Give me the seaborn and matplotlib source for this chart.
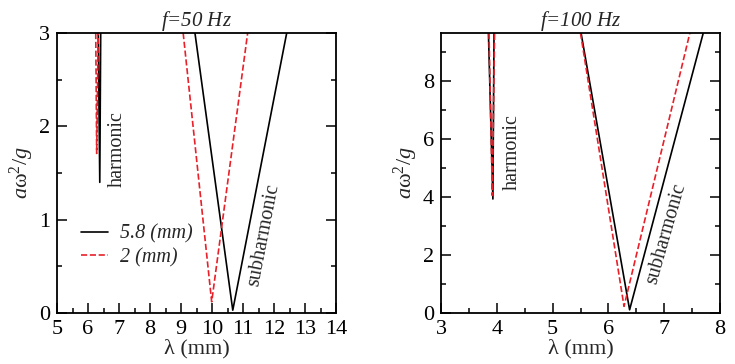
import numpy as np
import matplotlib
matplotlib.use('Agg')
import matplotlib.pyplot as plt
import seaborn as sns
from matplotlib.ticker import MultipleLocator

# ── data ──
# f = 50 Hz
h50_black_x = [6.33, 6.38, 6.41]
h50_black_y = [3.0, 1.40, 3.0]
h50_red_x = [6.25, 6.28, 6.33]
h50_red_y = [3.0, 1.71, 3.0]
s50_black_x = [9.45, 10.67, 12.41]
s50_black_y = [3.0, 0.03, 3.0]
s50_red_x = [9.07, 9.99, 11.15]
s50_red_y = [3.0, 0.12, 3.0]

# f = 100 Hz
h100_black_x = [3.85, 3.93, 3.95]
h100_black_y = [9.65, 3.93, 9.65]
h100_red_x = [3.86, 3.92, 3.96]
h100_red_y = [9.65, 4.05, 9.65]
s100_black_x = [5.51, 6.38, 7.70]
s100_black_y = [9.65, 0.11, 9.65]
s100_red_x = [5.50, 6.28, 7.46]
s100_red_y = [9.65, 0.23, 9.65]

legend_labels = ['5.8 (mm)', '2 (mm)']

sns.set_style('ticks')
plt.rcParams['font.family'] = ['Liberation Serif', 'DejaVu Serif']
plt.rcParams['mathtext.fontset'] = 'custom'
plt.rcParams['mathtext.rm'] = 'Liberation Serif'
plt.rcParams['mathtext.it'] = 'Liberation Serif:italic'

fig = plt.figure(figsize=(7.35, 3.64), dpi=100)
W, H = 735, 364
ax1 = fig.add_axes([57 / W, (H - 313) / H, 279 / W, 280 / H])
ax2 = fig.add_axes([441 / W, (H - 313) / H, 279 / W, 280 / H])

RED = '#e8202a'
lw = 1.2

def draw(ax, bx, by, rx, ry, lab=False):
    sns.lineplot(x=bx, y=by, ax=ax, color='black', lw=lw, sort=False,
                 estimator=None, label=legend_labels[0] if lab else None)
    sns.lineplot(x=rx, y=ry, ax=ax, color=RED, lw=lw, sort=False,
                 estimator=None, linestyle='--', dashes=(4, 2.5),
                 label=legend_labels[1] if lab else None)

draw(ax1, s50_black_x, s50_black_y, s50_red_x, s50_red_y, lab=True)
draw(ax1, h50_black_x, h50_black_y, h50_red_x, h50_red_y)
draw(ax2, h100_black_x, h100_black_y, h100_red_x, h100_red_y)
draw(ax2, s100_black_x, s100_black_y, s100_red_x, s100_red_y)

ax1.set_xlim(5, 14)
ax1.set_ylim(0, 3)
ax1.xaxis.set_major_locator(MultipleLocator(1))
ax1.xaxis.set_minor_locator(MultipleLocator(0.5))
ax1.yaxis.set_major_locator(MultipleLocator(1))
ax1.yaxis.set_minor_locator(MultipleLocator(0.5))

ax2.set_xlim(3, 8)
ax2.set_ylim(0, 9.65)
ax2.xaxis.set_major_locator(MultipleLocator(1))
ax2.xaxis.set_minor_locator(MultipleLocator(0.5))
ax2.yaxis.set_major_locator(MultipleLocator(2))
ax2.yaxis.set_minor_locator(MultipleLocator(1))

for ax, title in [(ax1, '$f$=50 Hz'), (ax2, '$f$=100 Hz')]:
    for s in ax.spines.values():
        s.set_visible(True)
        s.set_linewidth(1.3)
        s.set_color('black')
    ax.tick_params(which='both', direction='in', left=True, right=True,
                   bottom=True, top=False, width=1.1, colors='black',
                   labelsize=16)
    ax.tick_params(which='major', length=7, pad=5)
    ax.tick_params(which='minor', length=3.5)
    ax.set_xlabel('λ (mm)', fontsize=16, labelpad=0)
    ax.set_ylabel(r'$a\mathrm{\omega}^2/g$', fontsize=16, labelpad=2)
    ax.set_title(title, fontsize=15, style='italic', pad=3)

ax1.text(6.95, 1.76, 'harmonic', rotation=90, fontsize=14.5,
         ha='center', va='center')
ax1.text(11.66, 0.84, 'subharmonic', rotation=79, fontsize=14.5,
         ha='center', va='center')
ax2.text(4.28, 5.56, 'harmonic', rotation=90, fontsize=14.5,
         ha='center', va='center')
ax2.text(7.04, 2.73, 'subharmonic', rotation=74, fontsize=14.5,
         ha='center', va='center')

leg = ax1.legend(loc='center left', bbox_to_anchor=(0.02, 0.24),
                 frameon=False, fontsize=14.5, handlelength=1.35,
                 handletextpad=0.6, labelspacing=0.2)
for t in leg.get_texts():
    t.set_style('italic')

fig.savefig('out.png', dpi=100)
